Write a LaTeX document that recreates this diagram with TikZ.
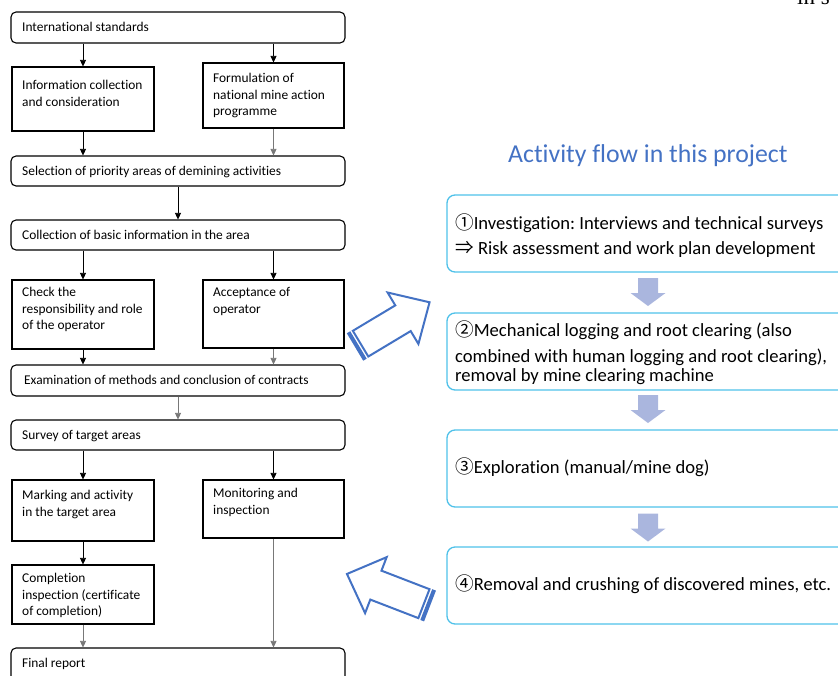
\documentclass[tikz,border=0pt]{standalone}
\usepackage{fontspec}
\setmainfont[Ligatures=NoCommon]{Carlito}
\newfontfamily\cjkfont{Noto Sans CJK JP}
\newfontfamily\seriffont{Liberation Serif}
\usetikzlibrary{arrows.meta}

\definecolor{flowblue}{RGB}{68,114,196}
\definecolor{boxcyan}{RGB}{79,193,233}
\definecolor{stepfill}{RGB}{170,182,222}
\definecolor{conngray}{RGB}{120,120,120}

% several lines, baseline on the first one
\newcommand\linesof[1]{\begin{tabular}[t]{@{}l@{}}#1\end{tabular}}
\newcommand\cn[1]{{\cjkfont #1}}

% a light down arrow between two activity boxes, centred at y = #1
\newcommand\downstep[1]{%
  \begin{scope}[shift={(648,#1)}]
    \fill[stepfill] (-10,-14) -- (10,-14) -- (10,1) -- (17.5,1) -- (0,14)
      -- (-17.5,1) -- (-10,1) -- cycle;
  \end{scope}}

\frenchspacing
\begin{document}
\begin{tikzpicture}[x=1pt,y=-1pt,
  proc/.style={draw, line width=1.1pt, inner sep=0pt},
  term/.style={proc, rounded corners=5pt},
  lbl/.style={anchor=base west, inner sep=0pt, font=\fontsize{13.4}{16.7}\selectfont},
  rbox/.style={draw=boxcyan, line width=1.3pt, rounded corners=8pt, inner sep=0pt,
    minimum width=413pt, minimum height=77pt},
  rlbl/.style={anchor=base west, inner sep=0pt, font=\fontsize{18.6}{25}\selectfont},
  conn/.style={line width=0.7pt, -{Triangle[width=6pt,length=6.5pt]}},
  conng/.style={conn, draw=conngray},
  hollow/.style={draw=flowblue, line width=2pt, line join=miter, fill=white},
]
\useasboundingbox (0,0) rectangle (838,675);
\clip (0,0) rectangle (838,675);

% ---------- left flow chart: boxes ----------
\node[term, minimum width=334pt, minimum height=31pt] (intl)   at (178,27.5)  {};
\node[proc, minimum width=142pt, minimum height=64pt] (info)   at (83,99)     {};
\node[proc, minimum width=141pt, minimum height=65pt] (form)   at (273.5,95.5){};
\node[term, minimum width=334pt, minimum height=30pt] (sel)    at (178,171)   {};
\node[term, minimum width=334pt, minimum height=30pt] (coll)   at (178,235)   {};
\node[proc, minimum width=142pt, minimum height=69pt] (check)  at (83,314.5)  {};
\node[proc, minimum width=141pt, minimum height=68pt] (accept) at (273.5,314) {};
\node[term, minimum width=334pt, minimum height=31pt] (exam)   at (178,380.5) {};
\node[term, minimum width=334pt, minimum height=30pt] (survey) at (178,435)   {};
\node[proc, minimum width=142pt, minimum height=61pt] (mark)   at (83,510.5)  {};
\node[proc, minimum width=141pt, minimum height=58pt] (monit)  at (273.5,509) {};
\node[proc, minimum width=142pt, minimum height=59pt] (compl)  at (83,594.5)  {};
\node[term, minimum width=334pt, minimum height=41pt] (final)  at (178,668.5) {};

% ---------- left flow chart: texts ----------
\node[lbl] (t-intl)   at (22,31.5)  {International standards};
\node[lbl] (t-info)   at (22,89.5)  {\linesof{Information collection\\and consideration}};
\node[lbl] (t-form)   at (213,82.5) {\linesof{Formulation of\\national mine action\\programme}};
\node[lbl] (t-sel)    at (22,175.5) {Selection of priority areas of demining activities};
\node[lbl] (t-coll)   at (22,239.5) {Collection of basic information in the area};
\node[lbl] (t-check)  at (22,296.5) {\linesof{Check the\\responsibility and role\\of the operator}};
\node[lbl] (t-accept) at (213,296.5){\linesof{Acceptance of\\operator}};
\node[lbl] (t-exam)   at (24,384.5) {Examination of methods and conclusion of contracts};
\node[lbl] (t-survey) at (22,439.5) {Survey of target areas};
\node[lbl] (t-mark)   at (22,499.5) {\linesof{Marking and activity\\in the target area}};
\node[lbl] (t-monit)  at (213,497.5){\linesof{Monitoring and\\inspection}};
\node[lbl] (t-compl)  at (22,582.5) {\linesof{Completion\\inspection (certificate\\of completion)}};
\node[lbl] (t-final)  at (22,667)   {Final report};

% ---------- left flow chart: connectors ----------
\draw[conn]  (intl.south -| info.north) -- (info.north);
\draw[conn]  (intl.south -| form.north) -- (form.north);
\draw[conn]  (info.south) -- (info.south |- sel.north);
\draw[conng] (form.south) -- (form.south |- sel.north);
\draw[conn]  (sel.south) -- (coll.north);
\draw[conn]  (coll.south -| check.north) -- (check.north);
\draw[conn]  (coll.south -| accept.north) -- (accept.north);
\draw[conn]  (check.south) -- (check.south |- exam.north);
\draw[conng] (accept.south) -- (accept.south |- exam.north);
\draw[conng] (exam.south) -- (survey.north);
\draw[conn]  (survey.south -| mark.north) -- (mark.north);
\draw[conn]  (survey.south -| monit.north) -- (monit.north);
\draw[conn]  (mark.south) -- (compl.north);
\draw[conng] (compl.south) -- (compl.south |- final.north);
\draw[conng] (monit.south) -- (monit.south |- final.north);

% ---------- right column: activity flow ----------
\node[anchor=base west, inner sep=0pt, text=flowblue,
  font=\fontsize{25.8}{30}\selectfont] (title) at (508,162) {Activity flow in this project};

\node[rbox] (r1) at (653.5,233.5) {};
\node[rbox] (r2) at (653.5,351.5) {};
\node[rbox] (r3) at (653.5,468.5) {};
\node[rbox] (r4) at (653.5,585.5) {};

\node[rlbl] (t-r1) at (455,229) {\linesof{\cn{①}Investigation: Interviews and technical surveys\\
  \cn{⇒} Risk assessment and work plan development}};
\node[rlbl, font=\fontsize{18.6}{19}\selectfont] (t-r2) at (455,336)
  {\linesof{\cn{②}Mechanical logging and root clearing (also\\[7pt]
  combined with human logging and root clearing),\\
  removal by mine clearing machine}};
\node[rlbl] (t-r3) at (455,473) {\cn{③}Exploration (manual/mine dog)};
\node[rlbl] (t-r4) at (455,590) {\cn{④}Removal and crushing of discovered mines, etc.};

\downstep{292}
\downstep{409}
\downstep{527.5}

% ---------- hollow striped arrows linking the two columns ----------
\begin{scope}[shift={(355,347)}, x={(0.857pt,0.514pt)}, y={(0.514pt,-0.857pt)}]
  \draw[hollow] (6.5,-15) -- (56,-15) -- (56,-30) -- (87,0) -- (56,30)
    -- (56,15) -- (6.5,15) -- cycle;
  \fill[flowblue] (0,-16) -- (4,-16) -- (4,16) -- (0,16) -- cycle;
\end{scope}
\begin{scope}[shift={(430,606)}, x={(-0.933pt,0.360pt)}, y={(0.360pt,0.933pt)}]
  \draw[hollow] (6.5,-15.5) -- (58,-15.5) -- (58,-30) -- (89,0) -- (58,30)
    -- (58,15.5) -- (6.5,15.5) -- cycle;
  \fill[flowblue] (0,-16.5) -- (4,-16.5) -- (4,16.5) -- (0,16.5) -- cycle;
\end{scope}

% fragment of a heading running off the top edge
\node[anchor=base west, inner sep=0pt, font=\seriffont\fontsize{23}{26}\selectfont]
  (edge) at (797,4) {in s};
\end{tikzpicture}
\end{document}
